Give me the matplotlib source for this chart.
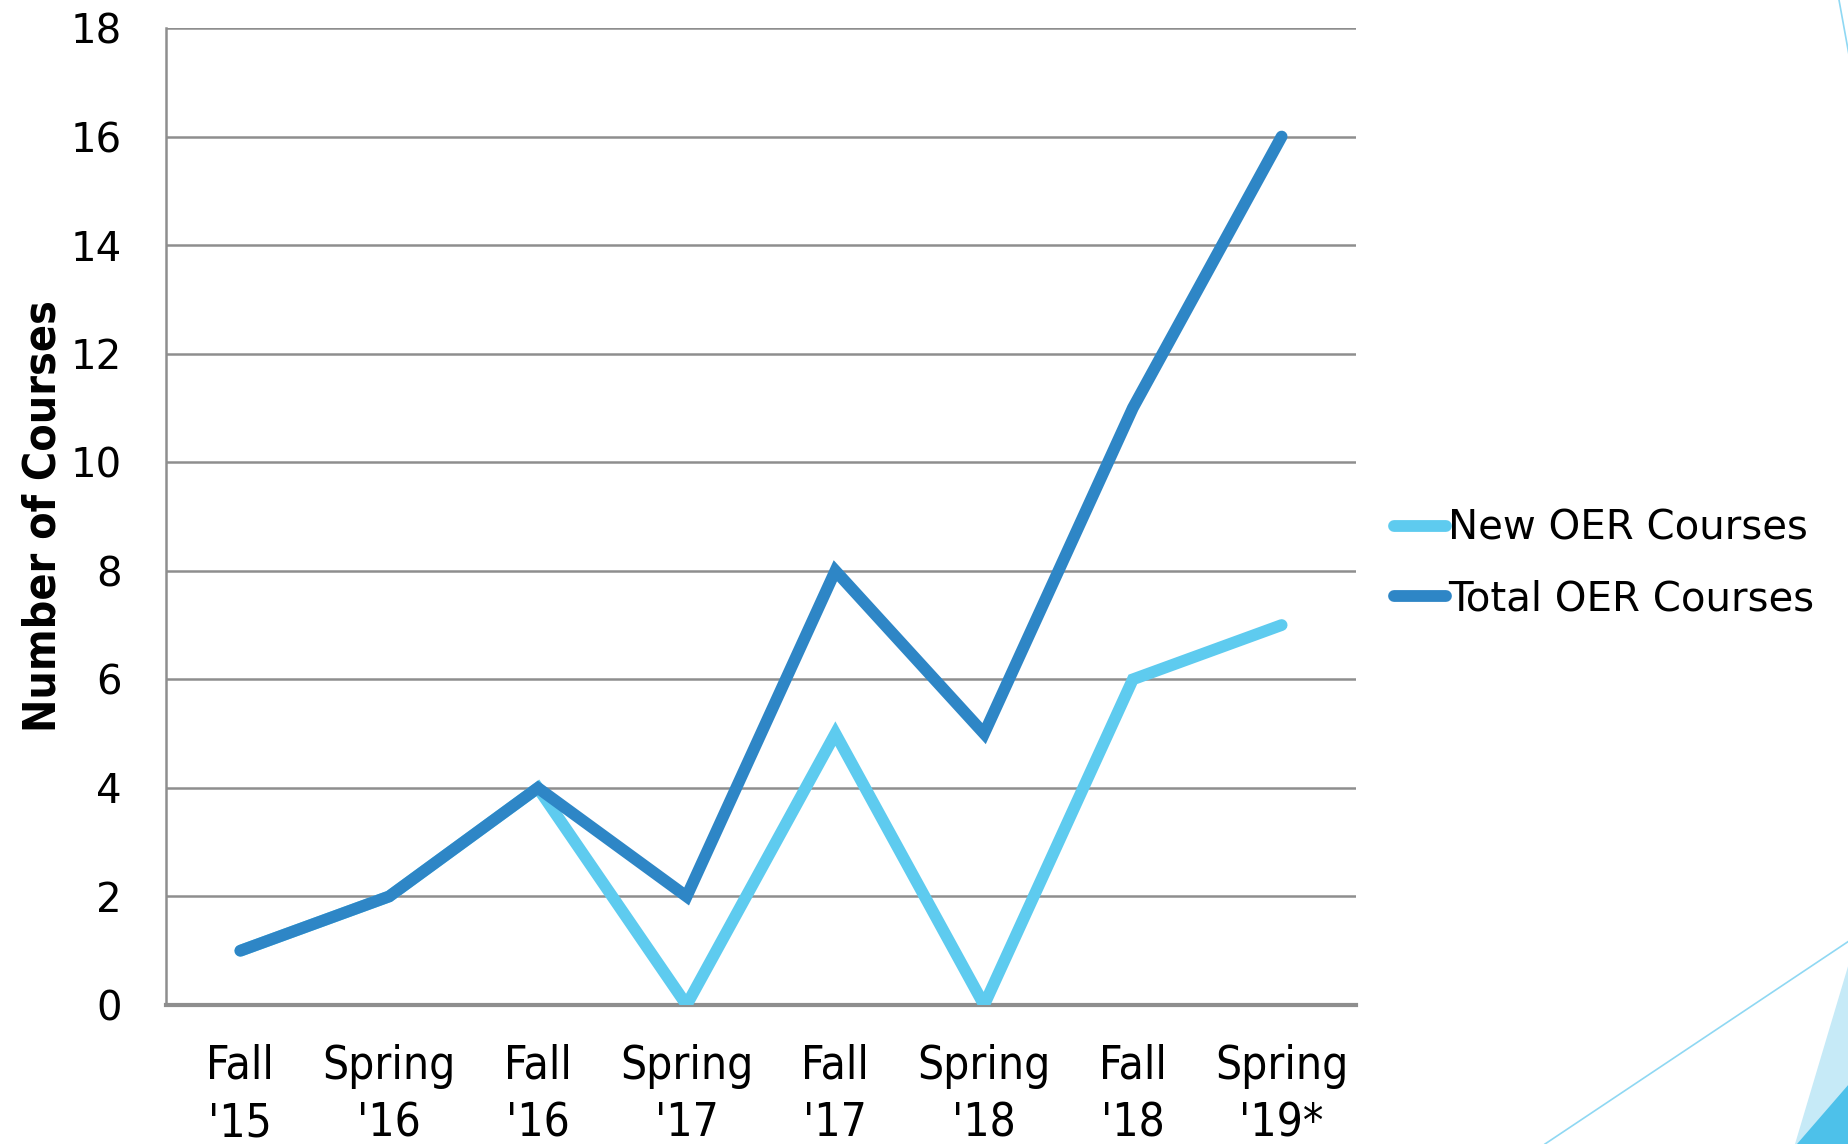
import matplotlib
matplotlib.use("Agg")
from matplotlib import pyplot as plt
from matplotlib.patches import Polygon
from matplotlib.lines import Line2D

terms = ["Fall\n'15", "Spring\n'16", "Fall\n'16", "Spring\n'17",
         "Fall\n'17", "Spring\n'18", "Fall\n'18", "Spring\n'19*"]
new_courses = [1, 2, 4, 0, 5, 0, 6, 7]
total_courses = [1, 2, 4, 2, 8, 5, 11, 16]
y_ticks = [0, 2, 4, 6, 8, 10, 12, 14, 16, 18]

LIGHT = "#5ecbef"
DARK = "#2e86c6"
GRID = "#8e8e8e"

W, H = 1849, 1144
fig = plt.figure(figsize=(W / 100, H / 100), dpi=100)
ax = fig.add_axes([166 / W, 1 - 1005 / H, (1356 - 166) / W, (1005 - 28) / H])

x = list(range(len(terms)))
ax.plot(x, new_courses, color=LIGHT, lw=8.5, solid_capstyle="round",
        solid_joinstyle="miter", label="New OER Courses", zorder=3)
ax.plot(x, total_courses, color=DARK, lw=8.5, solid_capstyle="round",
        solid_joinstyle="miter", label="Total OER Courses", zorder=4)

ax.set_xlim(-0.5, len(terms) - 0.5)
ax.set_ylim(0, 18)
ax.set_yticks(y_ticks)
ax.set_yticklabels([str(v) for v in y_ticks], fontsize=29, family="DejaVu Sans")
ax.set_xticks(x)
ax.set_xticklabels(terms, fontsize=33, family="DejaVu Sans", fontstretch="condensed",
                   linespacing=1.35)
ax.tick_params(axis="y", length=0, pad=32)
ax.tick_params(axis="x", length=0, pad=28)
ax.yaxis.grid(True, color=GRID, lw=1.8)
ax.set_axisbelow(True)
for s in ["top", "right"]:
    ax.spines[s].set_visible(False)
ax.spines["left"].set_color(GRID)
ax.spines["left"].set_linewidth(1.8)
ax.spines["bottom"].set_color(GRID)
ax.spines["bottom"].set_linewidth(3)
ax.spines["bottom"].set_zorder(2)

ax.set_ylabel("Number of Courses", fontsize=32, fontweight="bold",
              family="DejaVu Sans", fontstretch="condensed", labelpad=4)

handles = [Line2D([], [], color=LIGHT, lw=8.5, solid_capstyle="round"),
           Line2D([], [], color=DARK, lw=8.5, solid_capstyle="round")]
fig.legend(handles, ["New OER Courses", "Total OER Courses"],
           loc="center left", bbox_to_anchor=(1378 / W, 1 - 564 / H),
           frameon=False, fontsize=29, handlelength=1.3, handletextpad=0.05,
           labelspacing=0.75, borderaxespad=0)

# decorative slide shapes at the right edge
fig.add_artist(Line2D([1839 / W, 1.0], [1.0, 1 - 55 / H], color="#8fd8f3", lw=1.2,
                      transform=fig.transFigure))
fig.add_artist(Line2D([1545 / W, 1.0], [0.0, 1 - 941 / H], color="#8fd8f3", lw=1.2,
                      transform=fig.transFigure))
fig.add_artist(Polygon([(1795 / W, 0), (1.0, 1 - 963 / H), (1.0, 0)], closed=True,
                       facecolor="#c6eaf7", edgecolor="none", transform=fig.transFigure))
fig.add_artist(Polygon([(1797 / W, 0), (1.0, 1 - 1084 / H), (1.0, 0)], closed=True,
                       facecolor="#4dc1ea", edgecolor="none", transform=fig.transFigure))

fig.savefig("out.png", dpi=100)
